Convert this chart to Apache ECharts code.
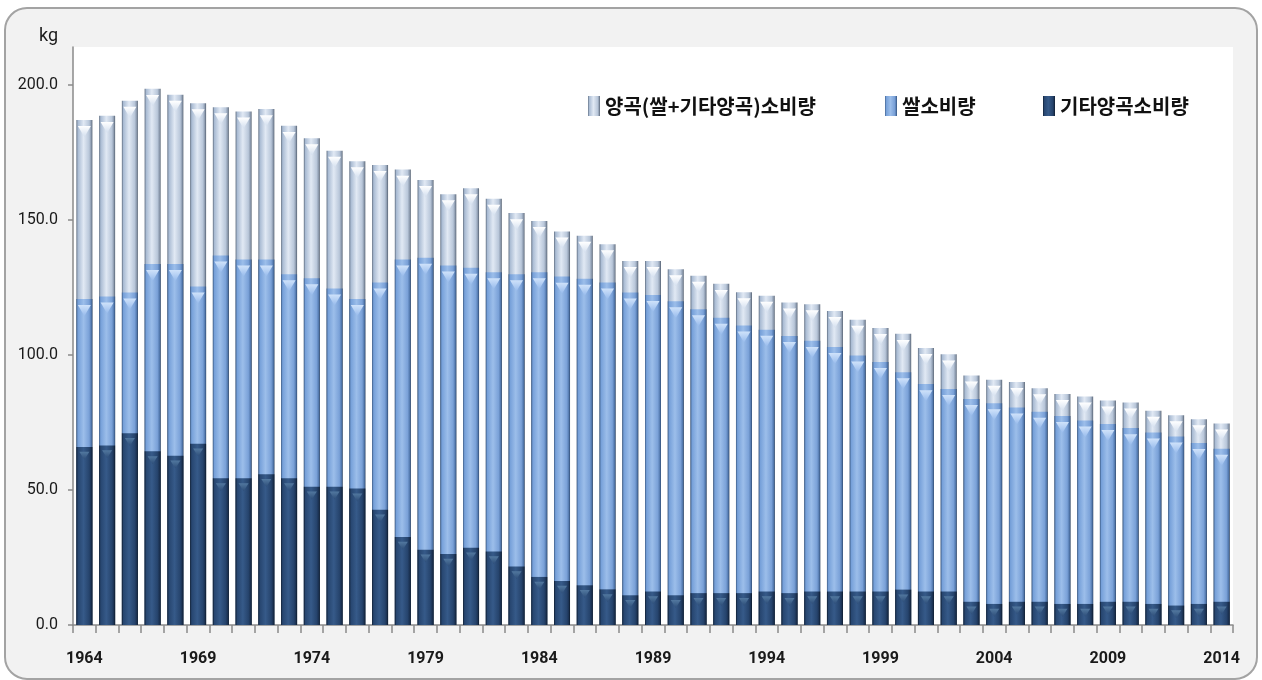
<!DOCTYPE html>
<html><head><meta charset="utf-8">
<script src="https://cdn.jsdelivr.net/npm/echarts@6/dist/echarts.min.js"></script>
<style>html,body{margin:0;padding:0;background:#fff}#c{width:1262px;height:680px}</style>
</head><body><div id="c"></div>
<script>
const years = ['1964','1965','1966','1967','1968','1969','1970','1971','1972','1973','1974','1975','1976','1977','1978','1979','1980','1981','1982','1983','1984','1985','1986','1987','1988','1989','1990','1991','1992','1993','1994','1995','1996','1997','1998','1999','2000','2001','2002','2003','2004','2005','2006','2007','2008','2009','2010','2011','2012','2013','2014'];
const totalGrain = [187.0,188.5,194.1,198.5,196.3,193.2,191.7,190.1,191.0,184.8,180.2,175.6,171.7,170.3,168.6,164.8,159.5,161.7,157.8,152.5,149.6,145.7,144.1,141.0,134.8,134.8,131.7,129.3,126.3,123.2,121.9,119.4,118.8,116.3,113.0,110.0,107.8,102.6,100.2,92.4,90.8,90.0,87.7,85.5,84.6,83.1,82.4,79.3,77.7,76.2,74.6];
const rice = [120.7,121.6,123.1,133.7,133.7,125.3,136.8,135.3,135.3,129.9,128.4,124.6,120.7,126.8,135.3,136.0,133.1,132.3,130.6,129.9,130.6,129.0,128.2,126.8,123.1,122.2,119.9,116.9,113.8,110.9,109.3,107.0,105.2,102.9,99.8,97.4,93.6,89.2,87.4,83.7,82.1,80.5,79.0,77.4,75.7,74.4,72.9,71.3,69.8,67.4,65.3];
const otherGrain = [65.9,66.5,71.0,64.3,62.7,67.1,54.3,54.3,55.8,54.3,51.2,51.2,50.5,42.7,32.6,27.9,26.3,28.6,27.2,21.7,17.8,16.3,14.7,13.2,11.0,12.4,11.0,11.8,11.8,11.8,12.4,11.8,12.4,12.4,12.4,12.4,13.1,12.4,12.4,8.6,7.8,8.6,8.6,7.8,7.8,8.6,8.6,7.8,7.2,7.8,8.6];
const yTicks = [0,50,100,150,200];
const seriesNames = ['양곡(쌀+기타양곡)소비량','쌀소비량','기타양곡소비량'];

const G = echarts.graphic.LinearGradient;
const cTotal = new G(0,0,1,0,[{offset:0,color:'#5f6d80'},{offset:0.1,color:'#a9bbd3'},{offset:0.45,color:'#e1e9f4'},{offset:0.8,color:'#b9c7da'},{offset:0.93,color:'#8896aa'},{offset:1,color:'#4e5a6a'}]);
const cRice = new G(0,0,1,0,[{offset:0,color:'#3d5d88'},{offset:0.1,color:'#76a0d9'},{offset:0.45,color:'#9cbeea'},{offset:0.8,color:'#7aa1d8'},{offset:0.93,color:'#5278ad'},{offset:1,color:'#2f4a70'}]);
const cOther = new G(0,0,1,0,[{offset:0,color:'#0f1d30'},{offset:0.1,color:'#274670'},{offset:0.45,color:'#365a89'},{offset:0.8,color:'#26446d'},{offset:0.93,color:'#1a3050'},{offset:1,color:'#0c1827'}]);
const triTotal = new G(0,0,0,1,[{offset:0,color:'#ffffff'},{offset:1,color:'#d3dfef'}]);
const triRice = new G(0,0,0,1,[{offset:0,color:'#cfe2fa'},{offset:1,color:'#96baec'}]);
const triOther = new G(0,0,0,1,[{offset:0,color:'#52789f'},{offset:1,color:'#2d4d78'}]);

const chart = echarts.init(document.getElementById('c'), null, {renderer:'canvas'});
const tri = 'path://M0,0 L10,0 L5,8 Z';
const legendText = {fontFamily:'"Noto Sans CJK KR", sans-serif', fontSize:20, fontWeight:'bold', color:'#111'};
function lg(name, left){
  return {data:[name], left:left, top:91, orient:'horizontal', itemWidth:12, itemHeight:20, itemGap:0, icon:'rect', textStyle:legendText, selectedMode:false};
}
const option = {
  backgroundColor:'#ffffff',
  animation:false,
  graphic:[{type:'rect', z:-10, silent:true, shape:{x:5, y:8, width:1252, height:671, r:22}, style:{fill:'#f2f2f2', stroke:'#a3a3a3', lineWidth:2}}],
  legend:[lg(seriesNames[0],583), lg(seriesNames[1],880), lg(seriesNames[2],1038)],
  grid:{left:73, right:29, top:47, bottom:55, show:true, backgroundColor:'#ffffff', borderWidth:0},
  xAxis:{
    type:'category', data:years, boundaryGap:true,
    axisLine:{lineStyle:{color:'#8a8a8a', width:1.5}},
    axisTick:{show:true, interval:0, length:8, lineStyle:{color:'#8a8a8a', width:1.5}},
    axisLabel:{interval:4, margin:26, fontFamily:'"Liberation Sans Narrow", Roboto, sans-serif', fontWeight:'bold', fontSize:16, color:'#1a1a1a'}
  },
  yAxis:{
    type:'value', min:0, max:214,
    name:'kg', nameLocation:'end', nameGap:0,
    nameTextStyle:{fontFamily:'Roboto, sans-serif', fontSize:18, color:'#1a1a1a', align:'right', verticalAlign:'bottom', padding:[0,15,2,0]},
    splitLine:{show:false},
    axisLine:{show:true, lineStyle:{color:'#8a8a8a', width:1.5}},
    axisTick:{show:true, length:5, customValues:yTicks, lineStyle:{color:'#8a8a8a', width:1.5}},
    axisLabel:{customValues:yTicks, margin:15, fontFamily:'"Liberation Sans Narrow", Roboto, sans-serif', fontSize:16, color:'#1a1a1a', formatter:function(v){return v.toFixed(1);}}
  },
  series:[
    {name:seriesNames[0], type:'bar', data:totalGrain, barWidth:16, barGap:'-100%', itemStyle:{color:cTotal}, z:2},
    {name:seriesNames[1], type:'bar', data:rice, barWidth:16, barGap:'-100%', itemStyle:{color:cRice}, z:3},
    {name:seriesNames[2], type:'bar', data:otherGrain, barWidth:16, barGap:'-100%', itemStyle:{color:cOther}, z:4},
    {name:'t1', type:'pictorialBar', data:totalGrain, symbol:tri, symbolSize:[13,11], symbolPosition:'end', symbolOffset:[0,'55%'], barGap:'-100%', itemStyle:{color:triTotal}, z:5, silent:true},
    {name:'t2', type:'pictorialBar', data:rice, symbol:tri, symbolSize:[13,11], symbolPosition:'end', symbolOffset:[0,'55%'], barGap:'-100%', itemStyle:{color:triRice}, z:5, silent:true},
    {name:'t3', type:'pictorialBar', data:otherGrain, symbol:tri, symbolSize:[10,8], symbolPosition:'end', symbolOffset:[0,'60%'], barGap:'-100%', itemStyle:{color:triOther}, z:5, silent:true}
  ]
};
chart.setOption(option);
</script>
</body></html>
